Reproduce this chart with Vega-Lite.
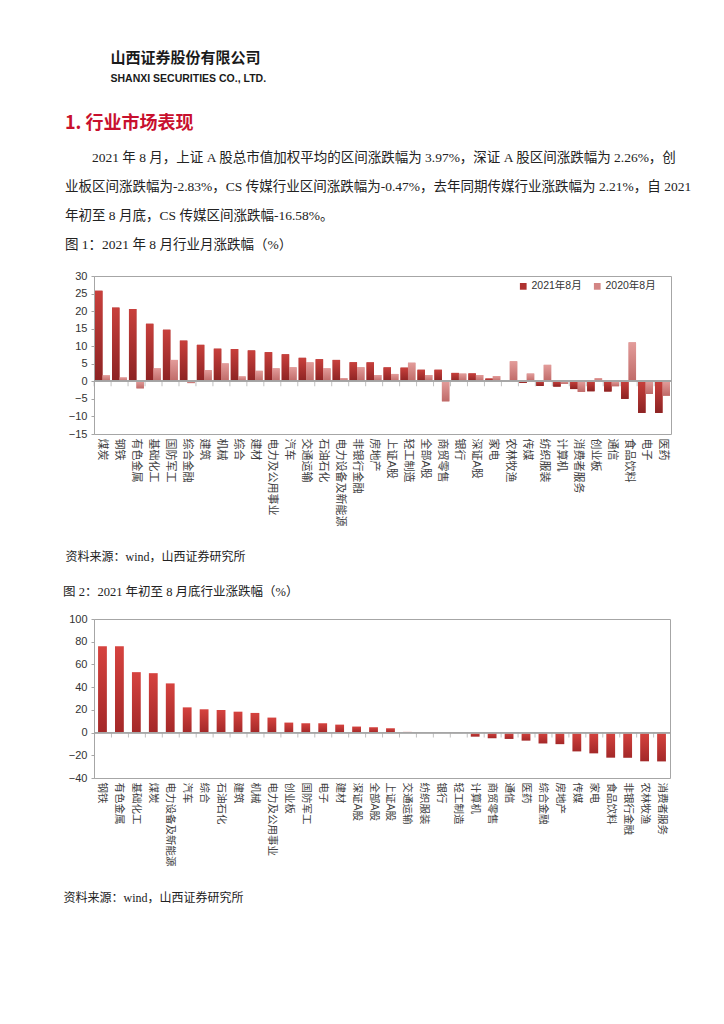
{
  "$schema": "https://vega.github.io/schema/vega-lite/v6.json",
  "padding": {"left": 62, "top": 50, "right": 40, "bottom": 10},
  "background": "white",
  "spacing": 21,
  "config": {
    "view": {"stroke": "#A6A6A6", "strokeWidth": 1},
    "font": "Noto Sans CJK SC",
    "axis": {"labelFont": "Liberation Sans, Noto Sans CJK SC", "labelColor": "#333333", "domainColor": "#A6A6A6", "tickColor": "#A6A6A6", "grid": false},
    "axisY": {"labelOverlap": false, "labelSeparation": 0, "labelFontSize": 11, "tickSize": 3, "labelPadding": 4, "title": null}
  },
  "title": {
    "text": "山西证券股份有限公司",
    "subtitle": "SHANXI SECURITIES CO., LTD.",
    "anchor": "start",
    "dx": 48,
    "font": "Noto Sans CJK SC",
    "fontSize": 15,
    "fontWeight": "bold",
    "color": "#1a1a1a",
    "subtitleFont": "Liberation Sans",
    "subtitleFontSize": 10.5,
    "subtitleFontWeight": "bold",
    "subtitleColor": "#1a1a1a",
    "subtitlePadding": 8,
    "offset": 30
  },
  "vconcat": [
    {
      "width": 577,
      "height": 158,
      "title": {
        "text": "1. 行业市场表现",
        "subtitle": [
          "​　　2021 年 8 月，上证 A 股总市值加权平均的区间涨跌幅为 3.97%，深证 A 股区间涨跌幅为 2.26%，创",
          "业板区间涨跌幅为-2.83%，CS 传媒行业区间涨跌幅为-0.47%，去年同期传媒行业涨跌幅为 2.21%，自 2021",
          "年初至 8 月底，CS 传媒区间涨跌幅-16.58%。",
          "图 1：2021 年 8 月行业月涨跌幅（%）"
        ],
        "anchor": "start",
        "font": "Noto Sans CJK SC",
        "fontSize": 18,
        "fontWeight": "bold",
        "color": "#C8102E",
        "subtitleFont": "Liberation Serif, Noto Sans CJK SC",
        "subtitleFontSize": 13.5,
        "subtitleColor": "#222222",
        "subtitleLineHeight": 29,
        "subtitlePadding": 18,
        "offset": 19
      },
      "data": {"values": [
        {"cat": "煤炭", "2021年8月": 25.8, "2020年8月": 1.7},
        {"cat": "钢铁", "2021年8月": 21.0, "2020年8月": 1.1},
        {"cat": "有色金属", "2021年8月": 20.6, "2020年8月": -2.0},
        {"cat": "基础化工", "2021年8月": 16.4, "2020年8月": 3.7},
        {"cat": "国防军工", "2021年8月": 14.7, "2020年8月": 6.1},
        {"cat": "综合金融", "2021年8月": 11.6, "2020年8月": -0.5},
        {"cat": "建筑", "2021年8月": 10.4, "2020年8月": 3.2},
        {"cat": "机械", "2021年8月": 9.3, "2020年8月": 5.1},
        {"cat": "综合", "2021年8月": 9.2, "2020年8月": 1.4},
        {"cat": "建材", "2021年8月": 8.8, "2020年8月": 3.0},
        {"cat": "电力及公用事业", "2021年8月": 8.3, "2020年8月": 3.7},
        {"cat": "汽车", "2021年8月": 7.7, "2020年8月": 4.0},
        {"cat": "交通运输", "2021年8月": 6.7, "2020年8月": 5.4},
        {"cat": "石油石化", "2021年8月": 6.3, "2020年8月": 3.7},
        {"cat": "电力设备及新能源", "2021年8月": 6.1, "2020年8月": 0.9},
        {"cat": "非银行金融", "2021年8月": 5.4, "2020年8月": 4.0},
        {"cat": "房地产", "2021年8月": 5.4, "2020年8月": 1.8},
        {"cat": "上证A股", "2021年8月": 3.97, "2020年8月": 2.1},
        {"cat": "轻工制造", "2021年8月": 3.9, "2020年8月": 5.3},
        {"cat": "全部A股", "2021年8月": 3.3, "2020年8月": 1.8},
        {"cat": "商贸零售", "2021年8月": 3.3, "2020年8月": -5.7},
        {"cat": "银行", "2021年8月": 2.4, "2020年8月": 2.2},
        {"cat": "深证A股", "2021年8月": 2.26, "2020年8月": 1.8},
        {"cat": "家电", "2021年8月": 0.8, "2020年8月": 1.5},
        {"cat": "农林牧渔", "2021年8月": 0.1, "2020年8月": 5.7},
        {"cat": "传媒", "2021年8月": -0.47, "2020年8月": 2.21},
        {"cat": "纺织服装", "2021年8月": -1.3, "2020年8月": 4.7},
        {"cat": "计算机", "2021年8月": -1.5, "2020年8月": -0.7},
        {"cat": "消费者服务", "2021年8月": -2.2, "2020年8月": -3.0},
        {"cat": "创业板", "2021年8月": -2.83, "2020年8月": 0.9},
        {"cat": "通信", "2021年8月": -2.9, "2020年8月": -1.4},
        {"cat": "食品饮料", "2021年8月": -5.0, "2020年8月": 11.1},
        {"cat": "电子", "2021年8月": -9.0, "2020年8月": -3.6},
        {"cat": "医药", "2021年8月": -9.0, "2020年8月": -4.1}
      ]},
      "layer": [
        {
          "transform": [{"fold": ["2021年8月", "2020年8月"], "as": ["s", "v"]}],
          "mark": {"type": "bar"},
          "encoding": {
            "x": {
              "field": "cat", "type": "nominal", "sort": null,
              "scale": {"paddingInner": 0.12, "paddingOuter": 0.06},
              "axis": {
                "title": "资料来源：wind，山西证券研究所",
                "titleAlign": "left", "titleAnchor": "start", "titleX": -29,
                "titleFont": "Liberation Serif, Noto Sans CJK SC", "titleFontSize": 12, "titleFontWeight": "normal", "titleColor": "#222222",
                "titlePadding": 26,
                "labelAngle": 90, "labelFontSize": 11, "labelPadding": 4, "labelColor": "#404040",
                "ticks": false, "domain": false
              }
            },
            "xOffset": {"field": "s", "type": "nominal", "sort": ["2021年8月", "2020年8月"], "scale": {"domain": ["2021年8月", "2020年8月"], "paddingInner": 0, "paddingOuter": 0}},
            "y": {
              "field": "v", "type": "quantitative",
              "scale": {"domain": [-15, 30], "nice": false},
              "axis": {"values": [-15, -10, -5, 0, 5, 10, 15, 20, 25, 30], "labelOverlap": false}
            },
            "color": {
              "field": "s", "type": "nominal", "sort": ["2021年8月", "2020年8月"],
              "scale": {"domain": ["2021年8月", "2020年8月"], "range": ["#AE3230", "#D38584"]},
              "legend": {
                "orient": "none", "legendX": 424, "legendY": 5, "direction": "horizontal", "title": null,
                "symbolType": "square", "symbolSize": 45, "symbolStrokeWidth": 0,
                "labelFont": "Liberation Sans, Noto Sans CJK SC", "labelFontSize": 10.5, "labelColor": "#333333",
                "labelOffset": 3, "columnPadding": 10
              }
            }
          }
        },
        {
          "transform": [{"fold": ["2021年8月", "2020年8月"], "as": ["s", "v"]}, {"filter": "datum.s === '2021年8月'"}],
          "mark": {
            "type": "bar",
            "color": {"gradient": "linear", "x1": 0, "y1": 0, "x2": 0, "y2": 1, "stops": [{"offset": 0, "color": "#C8403C"}, {"offset": 1, "color": "#8C2323"}]}
          },
          "encoding": {
            "x": {"field": "cat", "type": "nominal", "sort": null},
            "xOffset": {"field": "s", "type": "nominal", "sort": ["2021年8月", "2020年8月"]},
            "y": {"field": "v", "type": "quantitative", "axis": {"values": [-15, -10, -5, 0, 5, 10, 15, 20, 25, 30], "labelOverlap": false}}
          }
        },
        {
          "transform": [{"fold": ["2021年8月", "2020年8月"], "as": ["s", "v"]}, {"filter": "datum.s === '2020年8月'"}],
          "mark": {
            "type": "bar",
            "color": {"gradient": "linear", "x1": 0, "y1": 0, "x2": 0, "y2": 1, "stops": [{"offset": 0, "color": "#E39C9A"}, {"offset": 1, "color": "#BF6A68"}]}
          },
          "encoding": {
            "x": {"field": "cat", "type": "nominal", "sort": null},
            "xOffset": {"field": "s", "type": "nominal", "sort": ["2021年8月", "2020年8月"]},
            "y": {"field": "v", "type": "quantitative", "axis": {"values": [-15, -10, -5, 0, 5, 10, 15, 20, 25, 30], "labelOverlap": false}}
          }
        },
        {
          "mark": {"type": "rule", "color": "#A6A6A6", "strokeWidth": 1},
          "encoding": {"y": {"datum": 0, "axis": {"values": [-15, -10, -5, 0, 5, 10, 15, 20, 25, 30], "labelOverlap": false}}}
        },
        {
          "mark": {"type": "tick", "orient": "vertical", "size": 5, "thickness": 1, "color": "#A6A6A6", "yOffset": 2.5},
          "encoding": {
            "x": {"field": "cat", "type": "nominal", "sort": null, "bandPosition": -0.06},
            "y": {"datum": 0, "axis": {"values": [-15, -10, -5, 0, 5, 10, 15, 20, 25, 30], "labelOverlap": false}}
          }
        }
      ]
    },
    {
      "width": 576,
      "height": 159,
      "title": {
        "text": "图 2：2021 年初至 8 月底行业涨跌幅（%）",
        "anchor": "start",
        "font": "Liberation Serif, Noto Sans CJK SC",
        "fontSize": 12.5,
        "fontWeight": "normal",
        "color": "#222222",
        "offset": 15
      },
      "data": {"values": [
        {"cat": "钢铁", "v": 76.0},
        {"cat": "有色金属", "v": 76.0},
        {"cat": "基础化工", "v": 53.2},
        {"cat": "煤炭", "v": 52.3},
        {"cat": "电力设备及新能源", "v": 43.3},
        {"cat": "汽车", "v": 22.2},
        {"cat": "综合", "v": 20.5},
        {"cat": "石油石化", "v": 19.9},
        {"cat": "建筑", "v": 18.4},
        {"cat": "机械", "v": 17.3},
        {"cat": "电力及公用事业", "v": 13.2},
        {"cat": "创业板", "v": 8.8},
        {"cat": "国防军工", "v": 8.2},
        {"cat": "电子", "v": 8.2},
        {"cat": "建材", "v": 7.0},
        {"cat": "深证A股", "v": 5.3},
        {"cat": "全部A股", "v": 4.7},
        {"cat": "上证A股", "v": 3.8},
        {"cat": "交通运输", "v": 0.6},
        {"cat": "纺织服装", "v": 0.1},
        {"cat": "银行", "v": -0.1},
        {"cat": "轻工制造", "v": -0.7},
        {"cat": "计算机", "v": -3.6},
        {"cat": "商贸零售", "v": -5.0},
        {"cat": "通信", "v": -5.6},
        {"cat": "医药", "v": -7.1},
        {"cat": "综合金融", "v": -9.6},
        {"cat": "房地产", "v": -10.2},
        {"cat": "传媒", "v": -16.58},
        {"cat": "家电", "v": -18.3},
        {"cat": "食品饮料", "v": -22.1},
        {"cat": "非银行金融", "v": -22.2},
        {"cat": "农林牧渔", "v": -25.3},
        {"cat": "消费者服务", "v": -25.4}
      ]},
      "layer": [
        {
          "mark": {
            "type": "bar",
            "color": {"gradient": "linear", "x1": 0, "y1": 0, "x2": 0, "y2": 1, "stops": [{"offset": 0, "color": "#D6433F"}, {"offset": 1, "color": "#A32828"}]}
          },
          "encoding": {
            "x": {
              "field": "cat", "type": "nominal", "sort": null,
              "scale": {"paddingInner": 0.48, "paddingOuter": 0.24},
              "axis": {
                "title": "资料来源：wind，山西证券研究所",
                "titleAlign": "left", "titleAnchor": "start", "titleX": -31,
                "titleFont": "Liberation Serif, Noto Sans CJK SC", "titleFontSize": 12, "titleFontWeight": "normal", "titleColor": "#222222",
                "titlePadding": 27,
                "labelAngle": 90, "labelFontSize": 10.5, "labelPadding": 4, "labelColor": "#404040",
                "ticks": false, "domain": false
              }
            },
            "y": {
              "field": "v", "type": "quantitative",
              "scale": {"domain": [-40, 100], "nice": false},
              "axis": {"values": [-40, -20, 0, 20, 40, 60, 80, 100], "labelOverlap": false}
            }
          }
        },
        {
          "mark": {"type": "rule", "color": "#A6A6A6", "strokeWidth": 1},
          "encoding": {"y": {"datum": 0, "axis": {"values": [-40, -20, 0, 20, 40, 60, 80, 100], "labelOverlap": false}}}
        },
        {
          "mark": {"type": "tick", "orient": "vertical", "size": 5, "thickness": 1, "color": "#A6A6A6", "yOffset": 2.5},
          "encoding": {
            "x": {"field": "cat", "type": "nominal", "sort": null, "bandPosition": -0.4},
            "y": {"datum": 0, "axis": {"values": [-40, -20, 0, 20, 40, 60, 80, 100], "labelOverlap": false}}
          }
        }
      ]
    }
  ]
}
